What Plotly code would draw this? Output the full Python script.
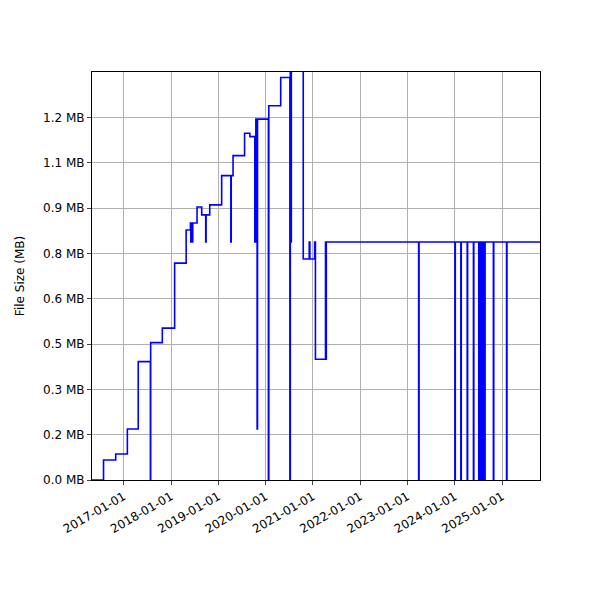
import plotly.graph_objects as go

dates = ["2016-05-01","2016-07-29","2016-10-31","2017-01-29","2017-04-23",
 "2017-07-26","2017-07-28","2017-10-26","2018-01-29","2018-04-28",
 "2018-05-31","2018-06-03","2018-06-06","2018-06-09","2018-06-12","2018-06-15","2018-06-18",
 "2018-07-21","2018-08-26","2018-09-26","2018-09-29","2018-10-27","2019-01-27",
 "2019-04-08","2019-04-11","2019-04-25","2019-07-23","2019-09-02",
 "2019-10-10","2019-10-13","2019-10-16","2019-10-18","2019-10-28","2019-10-31",
 "2020-01-23","2020-01-26","2020-04-27",
 "2020-07-07","2020-07-10","2020-07-14","2020-07-18","2020-10-18",
 "2020-12-03","2020-12-08","2021-01-14","2021-01-20",
 "2021-04-08","2021-04-11","2021-04-14",
 "2023-03-28","2023-03-31",
 "2024-01-02","2024-01-05","2024-02-17","2024-02-20","2024-04-06","2024-04-09",
 "2024-05-24","2024-05-27",
 "2024-07-04","2024-07-07","2024-07-12","2024-07-15","2024-07-21","2024-07-24",
 "2024-07-30","2024-08-02","2024-08-08","2024-08-11","2024-08-18","2024-08-22",
 "2024-10-25","2024-10-28","2025-02-04","2025-02-07","2025-10-20"]
sizes = [0,0.066,0.086,0.169,0.392,
 0,0.455,0.503,0.718,0.828,
 0.851,0.788,0.851,0.788,0.851,0.788,0.851,
 0.904,0.878,0.788,0.878,0.911,1.008,
 0.788,1.008,1.074,1.148,1.137,
 0.788,1.137,0.788,1.195,0.169,1.195,
 0,1.239,1.333,
 0,1.4,0.788,1.4,0.732,
 0.788,0.732,0.788,0.40,
 0.788,0.40,0.788,
 0,0.788,
 0,0.788,0,0.788,0,0.788,
 0,0.788,
 0,0.788,0,0.788,0,0.788,
 0,0.788,0,0.788,0,0.788,
 0,0.788,0,0.788,0.788]

ytick_vals = [0,0.15,0.3,0.45,0.6,0.75,0.9,1.05,1.2]
ytick_text = ["0.0 MB","0.2 MB","0.3 MB","0.5 MB","0.6 MB","0.8 MB","0.9 MB","1.1 MB","1.2 MB"]
xtick_vals = ["2017-01-01","2018-01-01","2019-01-01","2020-01-01","2021-01-01",
              "2022-01-01","2023-01-01","2024-01-01","2025-01-01"]

fig = go.Figure(go.Scatter(x=dates, y=sizes, mode="lines", line_shape="hv",
                           line=dict(color="#0000ff", width=1.6)))
fig.update_layout(width=600, height=600, margin=dict(l=82, r=68, t=64, b=128),
                  plot_bgcolor="white", paper_bgcolor="white", showlegend=False,
                  font=dict(family="DejaVu Sans", size=12, color="black"))
fig.update_xaxes(range=["2016-05-01","2025-10-20"], tickvals=xtick_vals, ticktext=xtick_vals,
                 tickangle=-30, showgrid=True, gridcolor="#b0b0b0", showline=True,
                 linecolor="black", mirror=True, ticks="outside", ticklen=4)
fig.update_yaxes(range=[0,1.351], tickvals=ytick_vals, ticktext=ytick_text,
                 showgrid=True, gridcolor="#b0b0b0", showline=True, linecolor="black",
                 mirror=True, ticks="outside", ticklen=4, zeroline=False,
                 title=dict(text="File Size (MB)", font=dict(size=12)))
fig.write_html("out.html")
